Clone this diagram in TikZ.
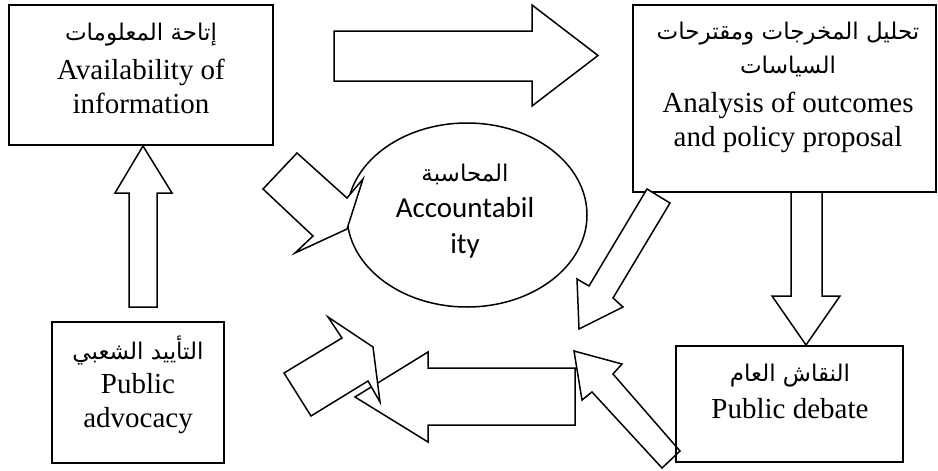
\documentclass[tikz,border=0pt]{standalone}
\usepackage{fontspec}
\setmainfont{Liberation Serif}
\newfontfamily\arabicfont[Script=Arabic]{DejaVu Sans}
\newfontfamily\calibrifont{Carlito}
\TeXXeTstate=1
\usetikzlibrary{shapes.geometric}
\newcommand{\arsize}{\arabicfont\fontsize{23}{34}\selectfont}
\begin{document}
\begin{tikzpicture}[x=1pt,y=-1pt,
  box/.style={draw, line width=1.6pt, rectangle, inner sep=0pt},
  blk/.style={draw, line width=1.5pt, fill=white, line join=miter},
  txt/.style={align=center, inner sep=0pt, font=\fontsize{29}{34}\selectfont},
  etxt/.style={align=center, inner sep=0pt, font=\calibrifont\fontsize{29}{36}\selectfont}]
\useasboundingbox (0,0) rectangle (938,471);

% boxes and ellipse
\node[box, minimum width=264pt, minimum height=140pt] (tl) at (141,75) {};
\node[box, minimum width=303pt, minimum height=187pt] (tr) at (784.5,98.5) {};
\node[box, minimum width=172pt, minimum height=141pt] (bl) at (138,392.5) {};
\node[draw, ellipse, line width=1.5pt, minimum width=240pt, minimum height=184pt, inner sep=0pt] (acc) at (467,215) {};

% texts
\node[txt] (tltext) at (141,68) {{\arsize\beginR إتاحة المعلومات\endR}\\[5pt]Availability of\\information};
\node[txt] (trtext) at (788,87.5) {{\arsize\beginR تحليل المخرجات ومقترحات\endR}\\{\arsize\beginR السياسات\endR}\\[5pt]Analysis of outcomes\\and policy proposal};
\node[txt] (bltext) at (138,385) {{\arsize\beginR التأييد الشعبي\endR}\\Public\\advocacy};
\node[etxt] (acctext) at (465,211) {{\arsize\beginR المحاسبة\endR}\\Accountabil\\ity};

% block arrows
\draw[blk] (334,31) -- (532,31) -- (532,5) -- (598,55.5) -- (532,106) -- (532,81) -- (334,81) -- cycle;
\draw[blk] (129,307) -- (129,193) -- (115,193) -- (143,146) -- (172,193) -- (157,193) -- (157,307) -- cycle;
\draw[blk] (297,153) -- (347,198) -- (363,179) -- (347,229) -- (295,253) -- (313,236) -- (263,189) -- cycle;
\draw[blk] (647,189) -- (670,203) -- (613,298) -- (623,307) -- (579,329) -- (577,279) -- (589,286) -- cycle;
\draw[blk] (791,192) -- (822,192) -- (822,296) -- (840,296) -- (806,345) -- (772,296) -- (791,296) -- cycle;
\draw[blk] (575,368) -- (428,368) -- (428,352) -- (355,397) -- (428,442) -- (428,425) -- (575,425) -- cycle;
\draw[blk] (284,373) -- (342,338) -- (328,317) -- (373,347) -- (380,402) -- (368,381) -- (311,416) -- cycle;
\draw[blk] (680,451) -- (613,374) -- (622,364) -- (574,351) -- (582,400) -- (592,392) -- (662,468) -- cycle;

% bottom-right box
\node[box, minimum width=227pt, minimum height=116pt] (br) at (789.5,404) {};
\node[txt] (brtext) at (790,391.5) {{\arsize\beginR النقاش العام\endR}\\[3pt]Public debate};
\end{tikzpicture}
\end{document}
